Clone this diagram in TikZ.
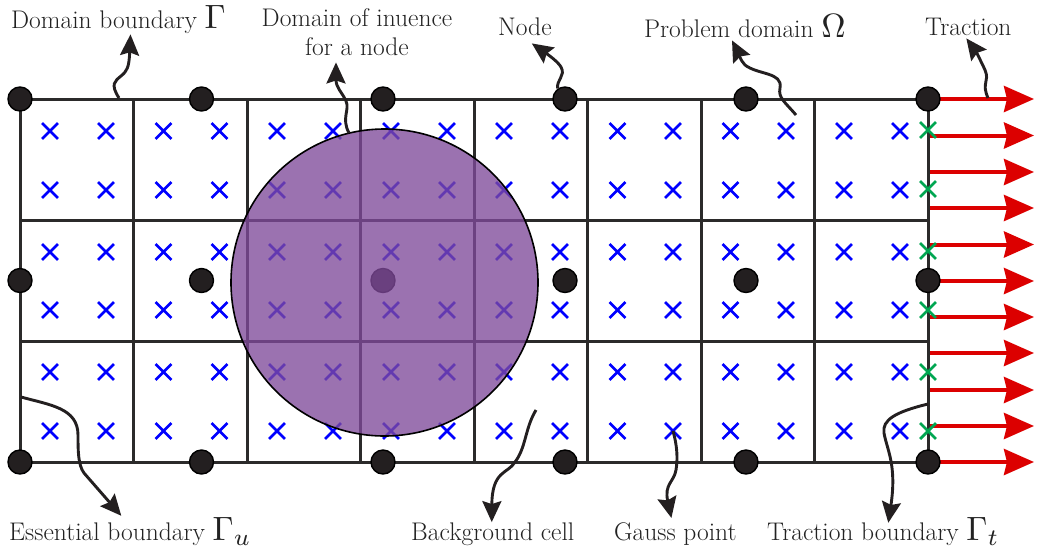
\documentclass[tikz,border=0pt]{standalone}
\usetikzlibrary{arrows.meta,shapes.misc}
\definecolor{gridblack}{HTML}{2B2A2A}
\definecolor{dotblack}{HTML}{231F20}
\definecolor{labelgray}{HTML}{222222}
\definecolor{domainpurple}{HTML}{7F4A9A}
\definecolor{gausblue}{HTML}{0000FF}
\definecolor{edgegreen}{HTML}{00A651}
\definecolor{tractred}{HTML}{DC0000}
\newcommand{\bigsym}[1]{\scalebox{3.37}{\normalsize$#1$}}
\tikzset{
  gridline/.style={draw=gridblack,line width=3pt},
  fieldnode/.style={circle,draw=black,fill=dotblack,line width=1.4pt,minimum size=24pt,inner sep=0pt},
  gausspt/.style={cross out,draw=gausblue,line width=2.8pt,minimum size=13pt,inner sep=0pt},
  edgept/.style={gausspt,draw=edgegreen},
  lbl/.style={font=\fontsize{25.5}{29}\selectfont,text=labelgray,inner sep=0pt},
  callout/.style={draw=dotblack,line width=2.9pt,-{Stealth[length=21pt,width=19pt,inset=3pt]}},
  tractarrow/.style={draw=tractred,line width=4pt,-{Stealth[length=30pt,width=26pt,inset=3pt]}}
}
\begin{document}
\begin{tikzpicture}[x=1pt,y=-1pt]
  \useasboundingbox (0,0) rectangle (1039,550);
  % traction
  \foreach \i/\y in {1/99,2/135.5,3/172,4/208,5/244.5,6/281,7/317,8/353,9/390,10/426,11/462} {
    \coordinate (t\i) at (929,\y);
    \coordinate (h\i) at (1034,\y);
    \draw[tractarrow] (t\i) -- (h\i);
  }
  % background cells
  \foreach \x in {133.5,247,360.5,474,587.5,701,814.5}
    \draw[gridline] (\x,99) -- (\x,462);
  \foreach \y in {220,341}
    \draw[gridline] (20,\y) -- (928,\y);
  \draw[gridline] (20,99) rectangle (928,462);
  % gauss points
  \foreach \x [count=\i] in {50,106,163.5,219.5,277,333,391,447,504,560,617.5,673,730.5,786,844,900}
    \foreach \y [count=\j] in {131,190,252,310,372,431}
      \node[gausspt] (g-\i-\j) at (\x,\y) {};
  \foreach \y [count=\j] in {130,189,251,310,372,431}
    \node[edgept] (e-\j) at (928,\y) {};
  % nodes
  \foreach \x [count=\i] in {20,201.5,383,565,746,928}
    \foreach \y [count=\j] in {99,280.5,462}
      \node[fieldnode] (n-\i-\j) at (\x,\y) {};
  % domain of influence
  \node[circle,draw=black,line width=1.6pt,fill=domainpurple,fill opacity=0.78,minimum size=307pt,inner sep=0pt] (doi) at (384.5,282.5) {};
  % labels
  \node[lbl,anchor=base west] (domainb) at (11,28) {Domain boundary \bigsym{\Gamma}};
  \node[lbl,anchor=base,align=center] (influ) at (357,55) {Domain of inuence\\for a node};
  \node[lbl,anchor=base west] (nodelbl) at (498,35) {Node};
  \node[lbl,anchor=base west] (problem) at (644,37) {Problem domain \bigsym{\Omega}};
  \node[lbl,anchor=base west] (tractlbl) at (925,35) {Traction};
  \node[lbl,anchor=base west] (essential) at (9,540) {Essential boundary \bigsym{\Gamma_u}};
  \node[lbl,anchor=base west] (cell) at (411,540) {Background cell};
  \node[lbl,anchor=base west] (gausslbl) at (614,540) {Gauss point};
  \node[lbl,anchor=base west] (tractb) at (767,540) {Traction boundary \bigsym{\Gamma_t}};
  % callouts
  \coordinate (sdomain) at (119,98);
  \coordinate (sinflu) at (349,133);
  \coordinate (sproblem) at (796,115);
  \coordinate (stract) at (988,98);
  \coordinate (sess) at (21,397);
  \coordinate (scell) at (536,410);
  \coordinate (stb) at (928,404);
  \draw[callout] (sdomain) .. controls (110,84) and (115,81) .. (121,76)
    .. controls (127,71) and (129,68) .. ([xshift=12pt,yshift=-1pt]domainb.south);
  \draw[callout] (sinflu) .. controls (341,118) and (350,110) .. (346,101)
    .. controls (342,92) and (336,88) .. ([xshift=-21pt,yshift=-7pt]influ.south);
  \draw[callout] (n-4-1.125) .. controls (556,80) and (566,76) .. (561,67)
    .. controls (558,62) and (550,56) .. ([xshift=-20pt,yshift=-8pt]nodelbl.south east);
  \draw[callout] (sproblem) .. controls (785,102) and (778,98) .. (780,88)
    .. controls (783,72) and (758,75) .. (745,65) .. controls (740,60) and (738,52) .. ([xshift=88pt,yshift=-3pt]problem.south west);
  \draw[callout] (stract) .. controls (981,82) and (990,82) .. (985,70)
    .. controls (981,61) and (975,50) .. ([xshift=-2pt,yshift=-3pt]tractlbl.south);
  \draw[callout] (sess) .. controls (50,405) and (78,408) .. (78,435)
    .. controls (78,450) and (78,465) .. (84,473) -- ([xshift=-9pt,yshift=1pt]essential.north);
  \draw[callout] (scell) .. controls (525,428) and (526,448) .. (515,462)
    .. controls (508,474) and (492,470) .. ([xshift=-1pt]cell.north);
  \draw[callout] (g-12-6.center) .. controls (677,445) and (678,458) .. (676,470)
    .. controls (674,482) and (664,484) .. ([xshift=-4pt,yshift=4pt]gausslbl.north);
  \draw[callout] (stb) .. controls (895,412) and (882,420) .. (884,433)
    .. controls (887,450) and (897,465) .. ([xshift=5pt,yshift=-6pt]tractb.north);
\end{tikzpicture}
\end{document}
